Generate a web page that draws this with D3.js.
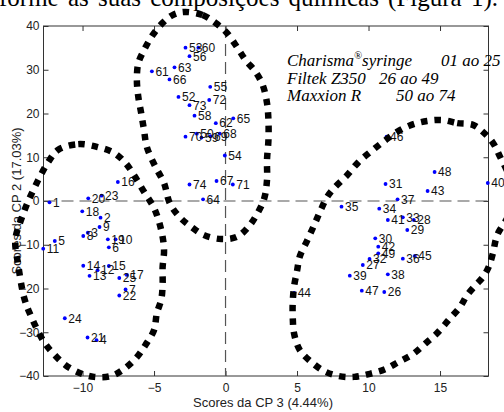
<!DOCTYPE html>
<html><head><meta charset="utf-8">
<script src="https://cdn.jsdelivr.net/npm/d3@7"></script>
<style>body{margin:0;background:#fff;overflow:hidden} svg{display:block}</style>
</head><body><svg id="c" width="504" height="412"></svg>
<script>
// ---- data ----
const xTicks = [-10, -5, 0, 5, 10, 15];
const yTicks = [40, 30, 20, 10, 0, -10, -20, -30, -40];
const xLabel = "Scores da CP 3 (4.44%)";
const yLabel = "Scores da CP 2 (17.03%)";
const legendNames = ["Charisma", "Filtek Z350", "Maxxion R"];
const legendSup = ["®", "", ""];
const legendSuffix = ["syringe", "", ""];
const legendRanges = ["01 ao 25", "26 ao 49", "50 ao 74"];
const pageText = "forme as suas composições químicas (Figura 1).";

// Charisma syringe (1-25)
const charismaLabels = ["1","2","3","4","5","6","7","8","9","10","11","12","13","14","15","16","17","18","19","20","21","22","23","24","25"];
const charismaCP3 = [-12.31,-8.74,-9.63,-9.02,-11.94,-8.16,-6.99,-9.95,-8.81,-7.69,-12.75,-8.95,-9.51,-9.95,-8.16,-7.53,-6.90,-10.02,-8.23,-9.60,-9.65,-7.43,-8.67,-11.24,-7.43];
const charismaCP2 = [-0.3,-3.81,-7.24,-31.8,-9.14,-10.59,-20.2,-8.0,-5.94,-8.76,-10.9,-15.8,-17.1,-14.8,-14.86,4.34,-16.9,-2.36,-8.76,0.61,-31.2,-21.6,1.22,-26.8,-17.6];

// Filtek Z350 (26-49)
const filtekLabels = ["26","27","28","29","30","31","32","33","34","35","36","37","38","39","40","41","42","43","44","45","46","47","48","49"];
const filtekCP3 = [11.10,9.60,13.17,12.71,10.47,11.19,10.07,12.40,10.75,8.11,12.40,12.03,11.35,8.69,18.34,11.35,10.68,14.13,4.80,13.24,11.26,9.53,14.62,10.68];
const filtekCP2 = [-20.8,-14.63,-4.34,-6.63,-8.53,3.89,-13.26,-3.73,-1.75,-1.3,-13.19,0.38,-16.76,-17.07,4.11,-4.34,-10.44,2.29,-21.0,-12.57,14.7,-20.5,6.63,-11.96];

// Maxxion R (50-74)
const maxxionLabels = ["53","60","56","63","61","66","55","52","72","73","58","62","65","70","50","59","69","68","54","74","67","71","64"];
const maxxionCP3 = [-2.80,-1.90,-2.52,-3.57,-5.15,-3.92,-1.07,-3.29,-1.14,-2.52,-2.17,-0.68,0.54,-2.80,-2.01,-1.68,-1.05,-0.40,-0.05,-2.52,-0.63,0.51,-1.57];
const maxxionCP2 = [35.04,35.04,33.1,30.55,29.64,27.8,26.1,23.8,23.09,21.9,19.5,17.8,18.9,14.7,15.4,14.5,14.8,15.4,10.4,3.77,4.57,3.77,0.39];

// hand-drawn group outlines (data units)
const outlineCharisma = [[-11.7,11.7],[-10.3,13.0],[-8.9,12.3],[-7.8,11.0],[-7.0,8.7],[-6.4,5.9],[-5.7,2.1],[-5.0,-1.6],[-4.5,-6.6],[-4.3,-11.2],[-4.4,-15.1],[-4.4,-19.2],[-4.5,-22.6],[-4.8,-25.6],[-5.0,-29.5],[-5.6,-32.9],[-6.2,-35.7],[-7.1,-38.4],[-8.0,-40.0],[-9.2,-40.2],[-10.2,-39.3],[-11.2,-37.5],[-12.0,-35.0],[-12.7,-32.2],[-13.7,-25.6],[-14.1,-21.9],[-14.5,-14.6],[-14.7,-8.9],[-14.3,-4.3],[-13.6,1.4],[-12.4,8.9]];
const outlineMaxxion = [[-2.9,43.2],[-1.6,42.5],[-0.7,40.7],[0.1,38.4],[0.8,35.2],[1.4,32.2],[2.1,29.5],[2.6,26.5],[2.9,22.4],[3.0,18.5],[3.0,13.9],[2.9,9.4],[2.9,4.8],[2.7,0.5],[2.2,-3.0],[1.6,-5.9],[0.8,-8.2],[-0.3,-8.7],[-1.5,-7.8],[-2.4,-5.9],[-3.2,-3.7],[-3.9,-0.5],[-4.3,4.1],[-4.9,7.8],[-5.5,12.3],[-5.7,16.2],[-5.9,20.1],[-6.1,23.8],[-6.2,27.7],[-6.1,31.5],[-5.7,34.5],[-5.1,37.9],[-4.4,40.7],[-3.7,42.5]];
const outlineFiltek = [[15.2,18.5],[16.2,17.8],[17.3,17.4],[18.0,15.8],[18.7,13.3],[19.2,10.1],[19.8,5.9],[20.1,1.4],[19.8,-3.2],[19.0,-7.8],[18.7,-11.9],[18.4,-15.1],[18.0,-17.4],[17.5,-19.2],[16.9,-21.5],[16.4,-24.2],[15.6,-27.2],[14.8,-30.2],[14.0,-32.5],[13.1,-35.0],[12.1,-36.8],[11.2,-38.4],[10.1,-39.5],[9.0,-40.2],[7.9,-40.0],[6.9,-38.9],[6.0,-36.8],[5.2,-34.1],[4.8,-30.4],[4.7,-26.5],[4.7,-23.1],[4.8,-19.4],[5.0,-16.0],[5.2,-12.6],[5.7,-9.1],[6.2,-5.5],[6.6,-2.5],[7.1,0.9],[7.6,3.0],[8.5,5.9],[9.3,8.9],[10.2,11.4],[11.1,13.7],[12.0,15.8],[13.0,17.4],[14.1,18.3]];

// ---- drawing ----
const svg = d3.select("#c");
const L = 43.5, R = 488.5, T = 26, B = 376;
const x = d3.scaleLinear().domain([-12.73, 18.39]).range([L, R]);
const y = d3.scaleLinear().domain([-40, 40]).range([B, T]);
const serif = "'Liberation Serif', 'Times New Roman', serif";
const sans = "'Liberation Sans', Arial, sans-serif";

svg.append("rect").attr("width", 504).attr("height", 412).attr("fill", "#fff");

// page text cut at top (justified line of the surrounding document)
const pt = svg.append("text").attr("x", -1).attr("y", 5.5)
  .attr("font-family", serif).attr("font-size", 25).attr("fill", "#000").text(pageText);
{
  const w = pt.node().getComputedTextLength();
  const nSp = pageText.split(" ").length - 1;
  const target = 499;
  if (w < target) pt.attr("word-spacing", (target - w) / nSp);
}

// axes
function styleAxis(g, labels) {
  g.select(".domain").remove();
  g.selectAll(".tick line").attr("stroke", "#333");
  g.selectAll(".tick text").attr("fill", "#222").attr("font-family", sans).attr("font-size", 12);
  if (!labels) g.selectAll(".tick text").remove();
}
svg.append("g").attr("transform", `translate(0,${B})`)
  .call(d3.axisBottom(x).tickValues(xTicks).tickSize(-5).tickPadding(7).tickFormat(d3.format("d")))
  .call(g => styleAxis(g, true));
svg.append("g").attr("transform", `translate(0,${T})`)
  .call(d3.axisTop(x).tickValues(xTicks).tickSize(-5))
  .call(g => styleAxis(g, false));
svg.append("g").attr("transform", `translate(${L},0)`)
  .call(d3.axisLeft(y).tickValues(yTicks).tickSize(-5).tickPadding(4).tickFormat(d3.format("d")))
  .call(g => styleAxis(g, true));
svg.append("g").attr("transform", `translate(${R},0)`)
  .call(d3.axisRight(y).tickValues(yTicks).tickSize(-5))
  .call(g => styleAxis(g, false));

svg.append("rect").attr("x", L).attr("y", T).attr("width", R - L).attr("height", B - T)
  .attr("fill", "none").attr("stroke", "#333").attr("stroke-width", 1);

// zero lines
svg.append("line").attr("x1", L).attr("x2", R).attr("y1", y(0)).attr("y2", y(0))
  .attr("stroke", "#555").attr("stroke-width", 1.2).attr("stroke-dasharray", "12,6");
svg.append("line").attr("x1", x(0)).attr("x2", x(0)).attr("y1", T).attr("y2", B)
  .attr("stroke", "#555").attr("stroke-width", 1.2).attr("stroke-dasharray", "12,6");

// axis labels
svg.append("text").attr("x", 263).attr("y", 407).attr("text-anchor", "middle")
  .attr("font-family", sans).attr("font-size", 13).attr("fill", "#222").text(xLabel);
svg.append("text").attr("transform", `translate(21,201) rotate(-90)`).attr("text-anchor", "middle")
  .attr("font-family", sans).attr("font-size", 13).attr("fill", "#222").text(yLabel);

// points
const groups = [
  [charismaLabels, charismaCP3, charismaCP2],
  [filtekLabels, filtekCP3, filtekCP2],
  [maxxionLabels, maxxionCP3, maxxionCP2]
];
const pts = [];
groups.forEach(([lab, xs, ys]) => lab.forEach((l, i) => pts.push({ l, cx: xs[i], cy: ys[i] })));
svg.append("g").selectAll("circle").data(pts).join("circle")
  .attr("cx", d => x(d.cx)).attr("cy", d => y(d.cy)).attr("r", 1.9).attr("fill", "#0000ff");
svg.append("g").selectAll("text").data(pts).join("text")
  .attr("x", d => x(d.cx) + 3.5).attr("y", d => y(d.cy)).attr("dy", "0.36em")
  .attr("font-family", sans).attr("font-size", 12).attr("fill", "#111").text(d => d.l);

// outlines
const outline = d3.line().x(d => x(d[0])).y(d => y(d[1])).curve(d3.curveCatmullRomClosed.alpha(0.5));
[outlineCharisma, outlineMaxxion, outlineFiltek].forEach(o => {
  svg.append("path").attr("d", outline(o)).attr("fill", "none").attr("stroke", "#000")
    .attr("stroke-width", 6.5).attr("stroke-dasharray", "6.5,7");
});

// legend
const lg = svg.append("g").attr("font-family", serif)
  .attr("font-style", "italic").attr("font-size", 17).attr("fill", "#000");
const rangeX = [441, 379, 396];
legendNames.forEach((nm, i) => {
  const yy = 66 + i * 17.5;
  const t = lg.append("text").attr("x", 287).attr("y", yy);
  t.append("tspan").text(nm);
  if (legendSup[i]) t.append("tspan").attr("font-size", 10.5).attr("dy", -7).text(legendSup[i]);
  if (legendSuffix[i]) t.append("tspan").attr("dy", legendSup[i] ? 7 : 0).text(legendSuffix[i]);
  lg.append("text").attr("x", rangeX[i]).attr("y", yy).text(legendRanges[i]);
});
</script></body></html>
